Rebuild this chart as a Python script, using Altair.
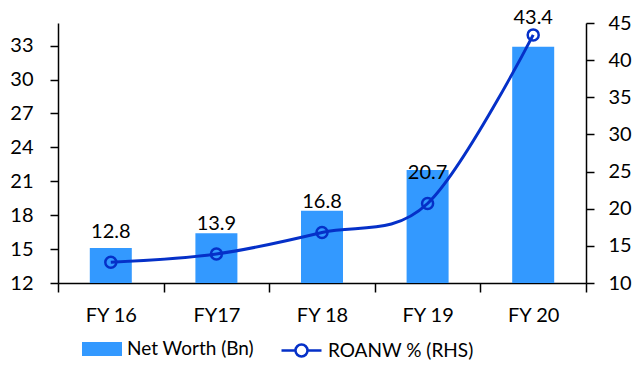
import altair as alt
import pandas as pd

# Fiscal years and the two series
years = ["FY 16", "FY17", "FY 18", "FY 19", "FY 20"]
net_worth = [15.1, 16.4, 18.4, 22.0, 32.9]   # Net Worth (Bn), left axis
roanw = [12.8, 13.9, 16.8, 20.7, 43.4]       # ROANW %, right axis

df = pd.DataFrame({"year": years, "nw": net_worth, "roa": roanw})

BAR = "#3399FF"
LINE = "#0530C8"
FONT = "Lato"

x_enc = alt.X(
    "year:N",
    sort=years,
    title=None,
    scale=alt.Scale(paddingInner=0, paddingOuter=0),
    axis=alt.Axis(
        tickBand="extent", labelAngle=0, labelPadding=13, tickSize=9,
        labelFontSize=20, labelFont=FONT, labelColor="black",
        domainColor="black", tickColor="black", domainWidth=1.5, tickWidth=1.5,
    ),
)

bars = (
    alt.Chart(df)
    .transform_calculate(s="'Net Worth (Bn)'")
    .mark_bar(size=42, clip=True)
    .encode(
        x=x_enc,
        y=alt.Y(
            "nw:Q",
            title=None,
            scale=alt.Scale(domain=[12, 35], nice=False, zero=False),
            axis=alt.Axis(
                values=list(range(12, 34, 3)), grid=False, tickSize=8,
                labelPadding=17, labelFontSize=20, labelFont=FONT,
                labelColor="black", domainColor="black", tickColor="black",
                domainWidth=1.5, tickWidth=1.5,
            ),
        ),
        color=alt.Color(
            "s:N",
            scale=alt.Scale(domain=["Net Worth (Bn)"], range=[BAR]),
            legend=alt.Legend(
                title=None, orient="none", legendX=24, legendY=306,
                symbolType="M-1,-0.35L1,-0.35L1,0.35L-1,0.35Z",
                symbolSize=1600, symbolStrokeWidth=0, labelOffset=5,
                labelFontSize=19, labelFont=FONT, labelColor="black",
            ),
        ),
    )
)

y_right_scale = alt.Scale(domain=[10, 45], nice=False, zero=False)
y_right_axis = alt.Axis(
    orient="right", values=list(range(10, 46, 5)), grid=False,
    tickSize=8, labelPadding=14, labelFontSize=20, labelFont=FONT,
    labelColor="black", domainColor="black", tickColor="black",
    domainWidth=1.5, tickWidth=1.5,
)

line = (
    alt.Chart(df)
    .transform_calculate(s="'ROANW % (RHS)'")
    .mark_line(interpolate="cardinal", strokeWidth=3)
    .encode(
        x=x_enc,
        y=alt.Y("roa:Q", title=None, scale=y_right_scale, axis=y_right_axis),
        color=alt.Color(
            "s:N",
            scale=alt.Scale(domain=["ROANW % (RHS)"], range=[LINE]),
            legend=alt.Legend(
                title=None, orient="none", legendX=222, legendY=306,
                symbolType="M-1,0L-0.3,0M0.3,0L1,0M-0.3,0A0.3,0.3,0,1,1,0.3,0A0.3,0.3,0,1,1,-0.3,0",
                symbolSize=1600, symbolStrokeWidth=2.5, symbolFillColor="white",
                labelOffset=5, labelFontSize=19, labelFont=FONT,
                labelColor="black",
            ),
        ),
    )
)

points = (
    alt.Chart(df)
    .mark_point(filled=False, size=121, strokeWidth=2.5, opacity=1)
    .encode(x=x_enc,
            y=alt.Y("roa:Q", title=None, scale=y_right_scale, axis=y_right_axis),
            color=alt.value(LINE))
)

labels = (
    alt.Chart(df)
    .transform_calculate(ly="min(datum.roa + 4.05, 45.7)")
    .mark_text(fontSize=20, font=FONT, color="black", baseline="middle")
    .encode(
        x=x_enc,
        y=alt.Y("ly:Q", title=None, scale=y_right_scale, axis=y_right_axis),
        text=alt.Text("roa:Q", format=".1f"),
    )
)

right = alt.layer(line, points, labels)

chart = (
    alt.layer(bars, right)
    .resolve_scale(y="independent", color="independent")
    .resolve_legend(color="independent")
    .properties(
        width=528, height=260,
        autosize=alt.AutoSizeParams(type="none"),
        padding={"left": 58, "top": 23, "right": 51, "bottom": 82},
    )
    .configure_view(stroke=None)
)

chart.save("out.html", embed_options={"renderer": "svg", "actions": False})
